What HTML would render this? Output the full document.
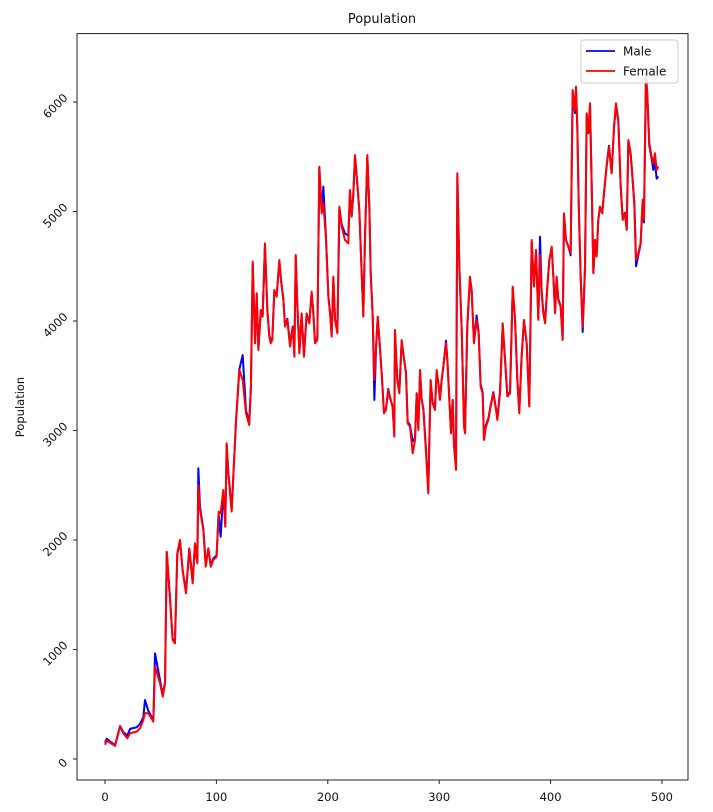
<!DOCTYPE html>
<html><head><meta charset="utf-8">
<style>
html,body{margin:0;padding:0;background:#fff;}
svg{display:block;font-family:"DejaVu Sans","Liberation Sans",sans-serif;}
</style></head>
<body>
<svg id="chart" width="713" height="812" viewBox="0 0 713 812" xmlns="http://www.w3.org/2000/svg">
<rect x="0" y="0" width="713" height="812" fill="#fff"/>
<text x="382" y="23" text-anchor="middle" font-size="13" fill="#111">Population</text>
<text transform="translate(24,407) rotate(-90)" text-anchor="middle" font-size="11.5" fill="#111">Population</text>
<g id="ticks"></g>
<g id="series"></g>
<rect x="77" y="33.6" width="611" height="746.4" fill="none" stroke="#222" stroke-width="1"/>
<g>
<rect x="581" y="40" width="97" height="43" rx="3" fill="#fff" fill-opacity="0.85" stroke="#ccc" stroke-width="1"/>
<line x1="586" y1="51" x2="615" y2="51" stroke="#0000ff" stroke-width="1.8"/>
<text x="623" y="55.5" font-size="12" fill="#111">Male</text>
<line x1="586" y1="71" x2="615" y2="71" stroke="#ff0000" stroke-width="1.8"/>
<text x="623" y="75.5" font-size="12" fill="#111">Female</text>
</g>
</svg>
<script>
const xs = [0,1.5,4.5,9,13.5,16.5,20,22.5,28.5,31.4,34.4,35.9,38.9,43.4,44.9,49.4,51.8,53.9,55.4,58.3,60.7,62.8,64.9,67.3,69.7,72.7,75.7,78.7,80.8,82.9,83.8,85.3,88.3,90.4,92.8,94.9,97.2,100.2,102,103.8,106.2,108,109.2,110.7,113.7,117.6,120.6,123.6,126.6,129.5,131,132.6,134.7,136.2,137.7,139.8,141.5,143.6,145.7,147.5,148.7,150.2,152,154.1,156.5,158.3,160.1,161.6,163.7,166.1,168.5,170,171.2,172.7,174.5,176.5,178.6,181,183.4,185.5,187,188.5,190.6,192.4,194.5,196,198.4,200.5,202,203.5,205,206.5,208.6,210.4,212.5,215.4,218.4,219.9,221.4,222.9,224.4,226.5,228.3,230.4,231.9,233.4,235.5,237.3,238.5,240.3,241.8,243.3,244.8,246.3,248.4,250.4,252.2,254.3,255.8,258.2,259.7,260.3,262.4,264.2,266.3,267.8,270.2,271.7,273.8,276.2,278.3,279.8,281.3,282.8,284.3,285.8,288.2,290.2,292.3,294.1,296.2,297.7,299.2,300.7,302.2,303.7,306.1,307.3,309.1,310.6,312.1,313.3,315.1,316.3,318.1,320.2,322.3,323.2,325.2,327.6,329.1,331.2,333.6,335.4,337.2,339,340.2,342,344.1,346.2,348.6,351,352.2,354.6,357,359.1,361.2,363.6,366,368.1,370.1,371.9,374,376.1,378.5,380.9,383,385.1,386.9,389,390.5,392,393.5,395,397.1,398.9,401,402.5,404,405.4,406.9,409,410.8,412,413.8,415.9,418,419.8,421.9,422.8,424,425.2,427,428.8,430.9,432.4,433.9,435.4,436.9,438.4,439.9,441.3,442.8,444.3,446.4,447.9,450.3,452.4,454.8,456.9,458.7,460.8,462.9,464.7,466.8,468.3,469.8,471.9,473.7,475.2,476.7,478.7,480.8,482.6,483.8,485.6,486.8,488.6,490.7,492.2,493.7,495.2,496.7];
const femaleVals = [130,167,149,119,295,235,189,235,250,280,356,420,417,341,843,691,569,691,1893,1482,1087,1056,1878,2000,1726,1513,1924,1604,1970,1787,2500,2274,2091,1756,1924,1756,1817,1848,2259,2243,2457,2121,2883,2609,2259,3096,3553,3461,3157,3050,3400,4542,3796,4253,3735,4100,4040,4709,4100,3857,3796,3827,4283,4222,4557,4344,4192,3948,4009,3766,3948,3674,4603,4131,3705,4070,3674,4070,3979,4268,4070,3796,3827,5409,4983,5075,4740,4222,4070,3857,4405,4009,3887,5044,4862,4740,4709,5196,4953,5166,5516,5257,5014,4435,4040,4770,5516,5044,4435,4040,3461,3766,4040,3827,3522,3157,3187,3370,3309,3218,2944,3918,3461,3340,3827,3705,3522,3066,3035,2792,2914,3340,3005,3553,3279,3187,2792,2426,3461,3248,3187,3553,3431,3279,3461,3583,3796,3644,3279,2974,3279,2853,2640,5349,4496,3918,3035,2974,3948,4405,4283,3796,4009,3887,3400,3340,2914,3035,3096,3218,3340,3188,3096,3340,3979,3644,3310,3340,4314,4010,3462,3157,3675,4010,3797,3218,4740,4314,4649,4010,4600,4253,4070,3979,4314,4558,4679,4405,4070,4405,4192,4131,3827,4984,4740,4680,4618,6110,5927,6140,5775,5075,4405,3948,4497,5897,5714,5988,5227,4436,4740,4588,4923,5045,4984,5166,5410,5593,5349,5775,5988,5836,5227,4923,4984,4831,5653,5532,5288,5075,4558,4618,4710,5106,4923,6262,6080,5623,5501,5440,5532,5379,5410];
const maleVals = [150,185,160,125,300,245,215,275,290,320,380,539,440,360,965,720,590,700,1890,1470,1100,1080,1870,1990,1720,1530,1920,1620,1965,1800,2655,2300,2100,1780,1920,1770,1830,1860,2240,2030,2440,2140,2870,2620,2280,3080,3560,3689,3180,3080,3400,4520,3800,4240,3750,4090,4050,4690,4110,3870,3820,3840,4270,4230,4540,4350,4200,3960,4020,3790,3950,3700,4590,4140,3720,4060,3690,4060,3990,4250,4080,3810,3840,5400,5000,5227,4760,4230,4080,3880,4390,4020,3900,5030,4880,4800,4780,5180,4960,5150,5500,5250,5000,4440,4050,4760,5500,5040,4440,4050,3279,3740,4030,3830,3520,3170,3200,3380,3300,3220,2960,3900,3470,3350,3810,3700,3530,3080,3050,2900,2930,3340,3020,3540,3280,3200,2820,2450,3450,3260,3200,3540,3440,3290,3460,3580,3820,3650,3290,2990,3280,2870,2670,5330,4490,3920,3050,2990,3940,4390,4290,3810,4050,3900,3420,3350,2930,3050,3110,3230,3350,3200,3110,3360,3960,3650,3320,3350,4300,4010,3480,3180,3680,4000,3800,3230,4720,4320,4640,4020,4771,4260,4080,3990,4320,4560,4670,4400,4080,4400,4200,4140,3840,4970,4740,4680,4600,6080,5900,6120,5760,5080,4400,3900,4480,5880,5720,5970,5230,4440,4740,4600,4920,5040,4990,5160,5420,5600,5350,5760,5970,5820,5240,4930,4990,4840,5640,5520,5280,5060,4500,4600,4700,5080,4900,6230,6050,5600,5480,5380,5450,5300,5320];
const xTickVals = [0,100,200,300,400,500];
const yTickVals = [0,1000,2000,3000,4000,5000,6000];

const NS = "http://www.w3.org/2000/svg";
function xScale(v){ return 105 + v * 1.114; }
function yScale(v){ return 759 - v * 0.1095; }

const ticks = document.getElementById('ticks');
xTickVals.forEach(function(t){
  const px = xScale(t);
  const ln = document.createElementNS(NS,'line');
  ln.setAttribute('x1',px); ln.setAttribute('x2',px);
  ln.setAttribute('y1',780); ln.setAttribute('y2',784);
  ln.setAttribute('stroke','#222');
  
  
  ticks.appendChild(ln);
  const tx = document.createElementNS(NS,'text');
  tx.setAttribute('x',px); tx.setAttribute('y',801);
  tx.setAttribute('text-anchor','middle');
  tx.setAttribute('font-size','11.5');
  tx.setAttribute('fill','#111');
  tx.textContent = String(t);
  
  
  ticks.appendChild(tx);
});
yTickVals.forEach(function(t){
  const py = yScale(t);
  const ln = document.createElementNS(NS,'line');
  ln.setAttribute('x1',73); ln.setAttribute('x2',77);
  ln.setAttribute('y1',py); ln.setAttribute('y2',py);
  ln.setAttribute('stroke','#222');
  
  
  ticks.appendChild(ln);
  const s = String(t);
  const w = s.length * 7;
  const box = (w + 8) * 0.707;
  const cx = 68 - box / 2;
  const cy = py + 4;
  const tx = document.createElementNS(NS,'text');
  tx.setAttribute('x',0); tx.setAttribute('y',4);
  tx.setAttribute('text-anchor','middle');
  tx.setAttribute('font-size','11.5');
  tx.setAttribute('fill','#111');
  tx.setAttribute('transform','translate('+cx+','+cy+') rotate(-45)');
  tx.textContent = s;
  
  
  ticks.appendChild(tx);
});

const series = document.getElementById('series');
function drawLine(vals, color, name){
  let d = '';
  for (let i = 0; i < xs.length; i++){
    d += (i ? 'L' : 'M') + xScale(xs[i]).toFixed(2) + ',' + yScale(vals[i]).toFixed(2);
  }
  const p = document.createElementNS(NS,'path');
  p.setAttribute('d', d);
  p.setAttribute('fill','none');
  p.setAttribute('stroke', color);
  p.setAttribute('stroke-width','2');
  p.setAttribute('stroke-linejoin','round');
  
  
  series.appendChild(p);
}
drawLine(maleVals, '#0000ff', 'male-line');
drawLine(femaleVals, '#ff0000', 'female-line');
</script>
</body></html>
